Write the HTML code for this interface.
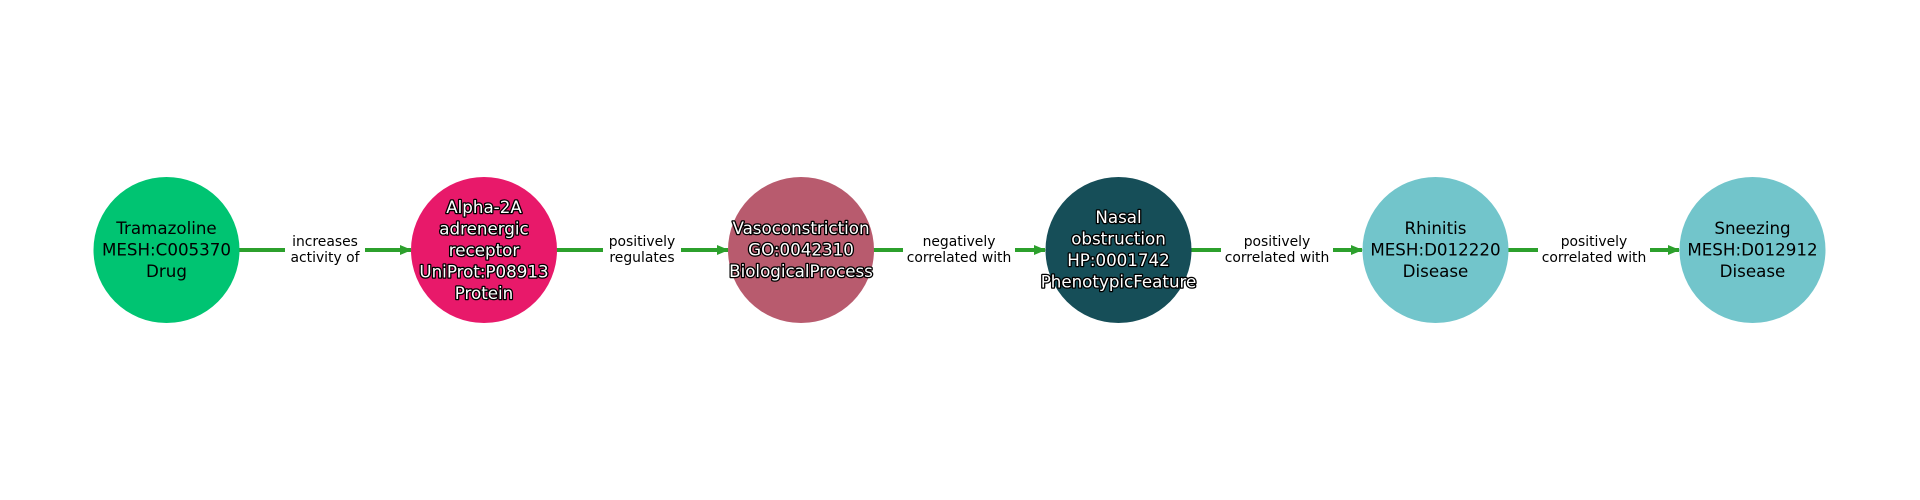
<!DOCTYPE html>
<html><head><meta charset="utf-8"><style>
html,body{margin:0;padding:0;background:#fff;}
svg{display:block;}
.n{font-family:"DejaVu Sans","Liberation Sans",sans-serif;font-size:16.7px;text-anchor:middle;}
.w{fill:#fff;stroke:#000;stroke-width:2.6px;paint-order:stroke;stroke-linejoin:round;}
.e{font-family:"DejaVu Sans","Liberation Sans",sans-serif;font-size:13.9px;text-anchor:middle;fill:#000;}
</style></head><body>
<svg width="1920" height="500" viewBox="0 0 1920 500" xmlns="http://www.w3.org/2000/svg">
<defs><marker id="a" markerWidth="12" markerHeight="12" refX="11" refY="6" orient="auto" markerUnits="userSpaceOnUse">
<path d="M0,1 L12,6 L0,11 Z" fill="#2ca02c"/></marker></defs>
<g stroke="#2ca02c" stroke-width="4" fill="none">
<line x1="239" y1="250" x2="411" y2="250" marker-end="url(#a)"/>
<line x1="556" y1="250" x2="728" y2="250" marker-end="url(#a)"/>
<line x1="873" y1="250" x2="1045" y2="250" marker-end="url(#a)"/>
<line x1="1191" y1="250" x2="1362" y2="250" marker-end="url(#a)"/>
<line x1="1508" y1="250" x2="1679" y2="250" marker-end="url(#a)"/>
</g>
<g fill="#fff">
<rect x="285" y="230" width="80" height="38"/>
<rect x="603" y="230" width="78" height="38"/>
<rect x="903" y="230" width="112" height="38"/>
<rect x="1221" y="230" width="112" height="38"/>
<rect x="1538" y="230" width="112" height="38"/>
</g>
<text class="e" x="325"><tspan x="325" y="246">increases</tspan><tspan x="325" y="262">activity of</tspan></text>
<text class="e"><tspan x="642" y="246">positively</tspan><tspan x="642" y="262">regulates</tspan></text>
<text class="e"><tspan x="959" y="246">negatively</tspan><tspan x="959" y="262">correlated with</tspan></text>
<text class="e"><tspan x="1277" y="246">positively</tspan><tspan x="1277" y="262">correlated with</tspan></text>
<text class="e"><tspan x="1594" y="246">positively</tspan><tspan x="1594" y="262">correlated with</tspan></text>
<circle cx="166.5" cy="250" r="73" fill="#00c472"/>
<circle cx="484" cy="250" r="73" fill="#e8196a"/>
<circle cx="801" cy="250" r="73" fill="#b85b6e"/>
<circle cx="1118.5" cy="250" r="73" fill="#164e58"/>
<circle cx="1435.5" cy="250" r="73" fill="#72c5cb"/>
<circle cx="1752.5" cy="250" r="73" fill="#72c5cb"/>
<text class="n"><tspan x="166.5" y="234">Tramazoline</tspan><tspan x="166.5" y="255.5">MESH:C005370</tspan><tspan x="166.5" y="277">Drug</tspan></text>
<text class="n w"><tspan x="484" y="213">Alpha-2A</tspan><tspan x="484" y="234.5">adrenergic</tspan><tspan x="484" y="256">receptor</tspan><tspan x="484" y="277.5">UniProt:P08913</tspan><tspan x="484" y="299">Protein</tspan></text>
<text class="n w"><tspan x="801" y="234">Vasoconstriction</tspan><tspan x="801" y="255.5">GO:0042310</tspan><tspan x="801" y="277">BiologicalProcess</tspan></text>
<text class="n w"><tspan x="1118.5" y="223">Nasal</tspan><tspan x="1118.5" y="244.5">obstruction</tspan><tspan x="1118.5" y="266">HP:0001742</tspan><tspan x="1118.5" y="287.5">PhenotypicFeature</tspan></text>
<text class="n"><tspan x="1435.5" y="234">Rhinitis</tspan><tspan x="1435.5" y="255.5">MESH:D012220</tspan><tspan x="1435.5" y="277">Disease</tspan></text>
<text class="n"><tspan x="1752.5" y="234">Sneezing</tspan><tspan x="1752.5" y="255.5">MESH:D012912</tspan><tspan x="1752.5" y="277">Disease</tspan></text>
</svg>
</body></html>
